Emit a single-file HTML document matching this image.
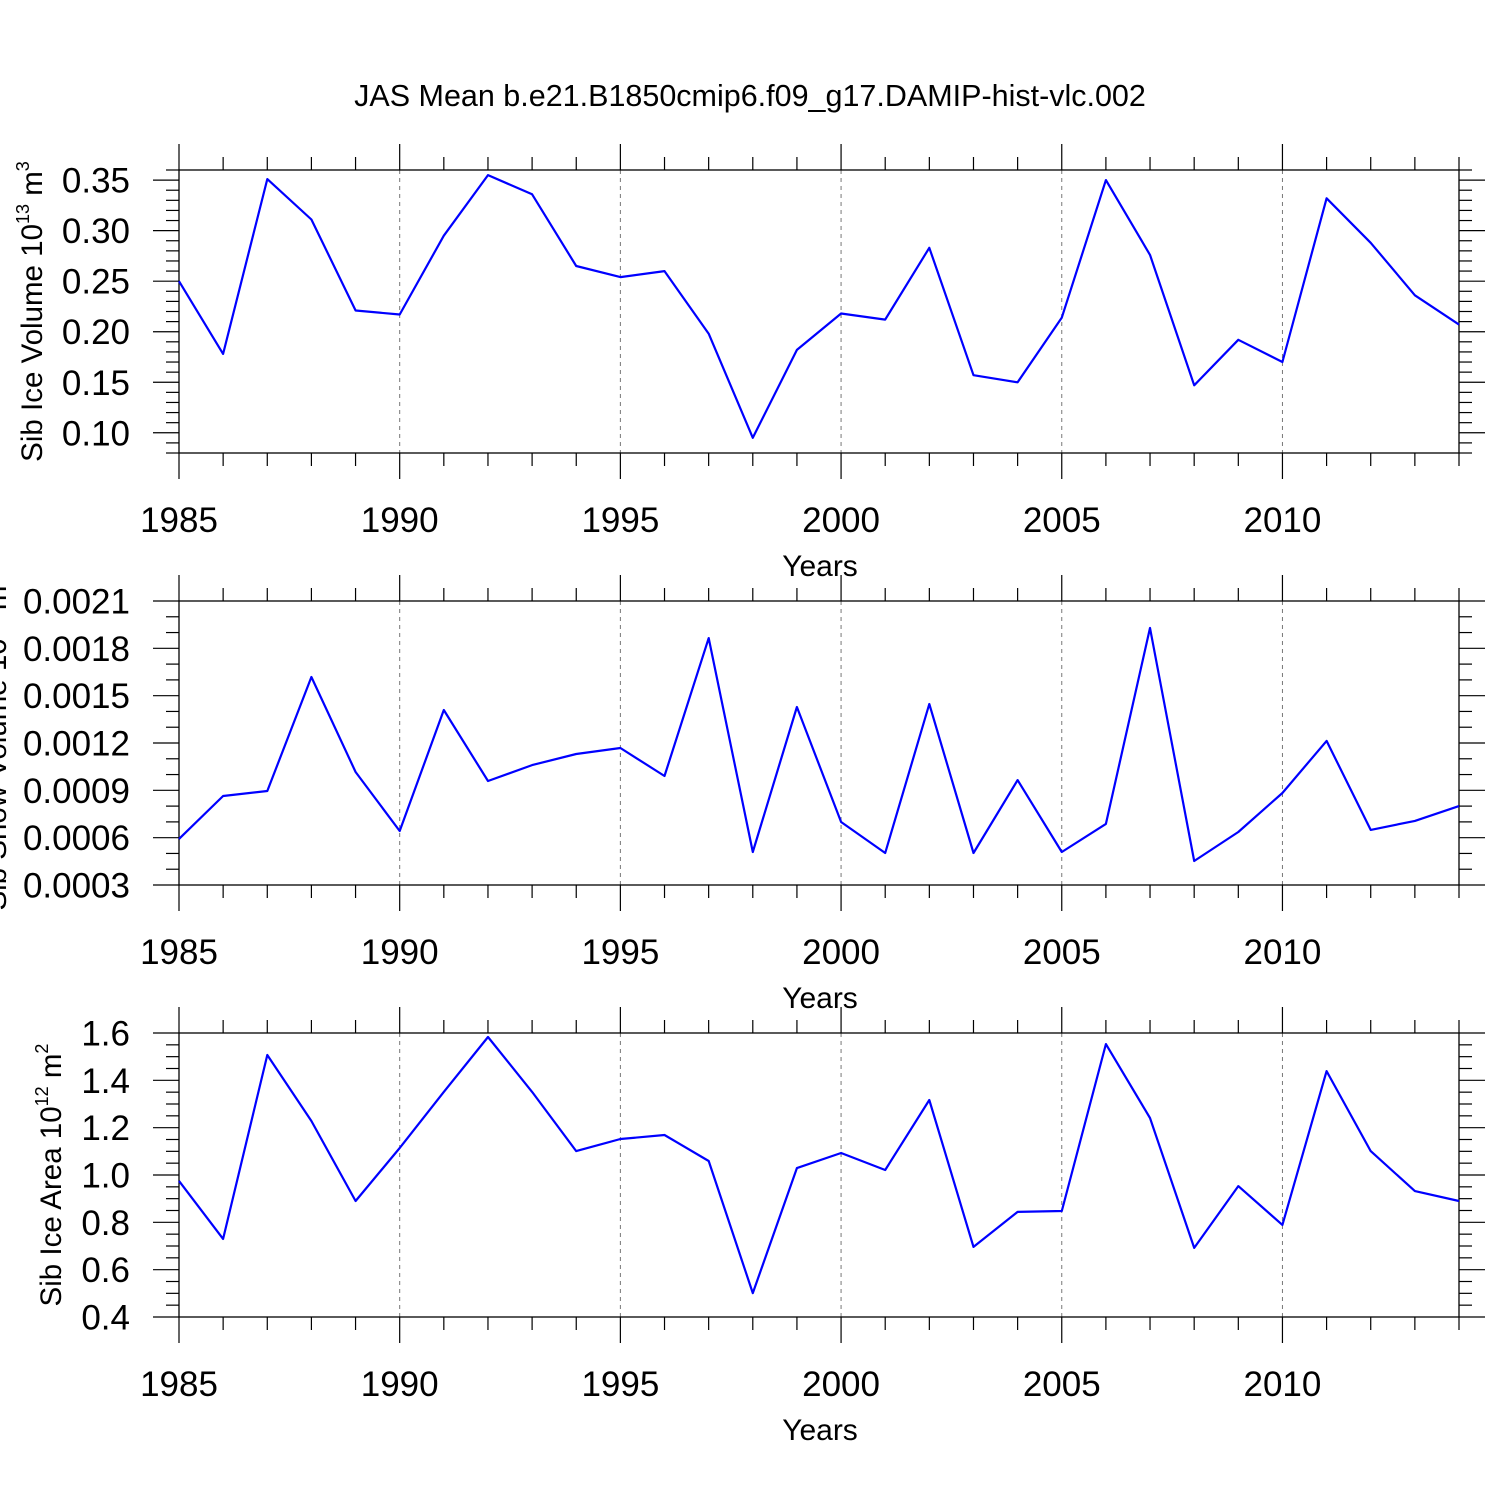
<!DOCTYPE html>
<html><head><meta charset="utf-8"><style>
html,body{margin:0;padding:0;background:#fff;}
svg{display:block;font-family:"Liberation Sans",sans-serif;}
</style></head><body>
<svg id="chart" width="1500" height="1500" viewBox="0 0 1500 1500" xmlns="http://www.w3.org/2000/svg">
<rect width="1500" height="1500" fill="#fff"/>
<text x="750" y="106" font-size="30.5" text-anchor="middle">JAS Mean b.e21.B1850cmip6.f09_g17.DAMIP-hist-vlc.002</text>
</svg>
<script>
const years = [1985,1986,1987,1988,1989,1990,1991,1992,1993,1994,1995,1996,1997,1998,1999,2000,2001,2002,2003,2004,2005,2006,2007,2008,2009,2010,2011,2012,2013,2014];
const iceVolume = [0.250,0.178,0.351,0.311,0.221,0.217,0.295,0.355,0.336,0.265,0.254,0.260,0.198,0.095,0.182,0.218,0.212,0.283,0.157,0.150,0.214,0.350,0.276,0.147,0.192,0.170,0.332,0.288,0.236,0.207];
const snowVolume = [0.000592,0.000864,0.000896,0.001618,0.001016,0.000642,0.001409,0.000959,0.00106,0.00113,0.001168,0.000991,0.001865,0.000509,0.001428,0.000699,0.000503,0.001447,0.000503,0.000965,0.000509,0.000687,0.001929,0.000452,0.000636,0.000883,0.001213,0.000649,0.000706,0.0008];
const iceArea = [0.975,0.730,1.507,1.228,0.890,1.114,1.351,1.583,1.351,1.101,1.152,1.169,1.059,0.501,1.029,1.093,1.021,1.317,0.696,0.844,0.848,1.553,1.241,0.692,0.953,0.789,1.439,1.101,0.932,0.890];
const xTicks = [1985,1990,1995,2000,2005,2010];
const volTicks = ["0.10","0.15","0.20","0.25","0.30","0.35"];
const snowTicks = ["0.0003","0.0006","0.0009","0.0012","0.0015","0.0018","0.0021"];
const areaTicks = ["0.4","0.6","0.8","1.0","1.2","1.4","1.6"];

const NS="http://www.w3.org/2000/svg";
const svg=document.getElementById('chart');
function mk(tag,attrs,parent){const e=document.createElementNS(NS,tag);for(const k in attrs)e.setAttribute(k,attrs[k]);(parent||svg).appendChild(e);return e;}

const X0=179,X1=1459;
function xs(v){return X0+(v-1985)/(2014-1985)*(X1-X0);}

const panels=[
 {name:'ice-volume',top:170,bot:453,ymin:0.08,ymax:0.36,data:iceVolume,ticks:volTicks,minor:0.01,label:'Sib Ice Volume 10',sup:'13',unit:'3',labelX:42},
 {name:'snow-volume',top:601,bot:885,ymin:0.0003,ymax:0.0021,data:snowVolume,ticks:snowTicks,minor:0.0001,label:'Sib Snow Volume 10',sup:'10',unit:'3',labelX:6},
 {name:'ice-area',top:1033,bot:1317,ymin:0.4,ymax:1.6,data:iceArea,ticks:areaTicks,minor:0.05,label:'Sib Ice Area 10',sup:'12',unit:'2',labelX:61}
];

panels.forEach(p=>{
  const g=mk('g',{});
  
  
  const ys=v=>p.bot-(v-p.ymin)/(p.ymax-p.ymin)*(p.bot-p.top);
  xTicks.slice(1).forEach(t=>{
    const l=mk('line',{x1:xs(t),x2:xs(t),y1:p.top,y2:p.bot,stroke:'#777','stroke-width':1,'stroke-dasharray':'4,4'},g);
    
    
  });
  const fr=mk('rect',{x:X0,y:p.top,width:X1-X0,height:p.bot-p.top,fill:'none',stroke:'#000','stroke-width':1.3},g);
  
  
  years.forEach(yr=>{
    const major=xTicks.includes(yr);
    const len=major?26:13;
    const x=xs(yr);
    mk('line',{x1:x,x2:x,y1:p.top,y2:p.top-len,stroke:'#000','stroke-width':1.2},g);
    mk('line',{x1:x,x2:x,y1:p.bot,y2:p.bot+len,stroke:'#000','stroke-width':1.2},g);
  });
  xTicks.forEach(t=>{
    const tx=mk('text',{x:xs(t),y:p.bot+79,'font-size':35,'text-anchor':'middle'},g);
    tx.textContent=t;
    
    
  });
  const nMinor=Math.round((p.ymax-p.ymin)/p.minor);
  const tickVals=p.ticks.map(Number);
  for(let i=0;i<=nMinor;i++){
    const v=p.ymin+i*p.minor;
    const major=tickVals.some(t=>Math.abs(t-v)<p.minor*0.1);
    const len=major?26:13;
    const y=ys(v);
    mk('line',{x1:X0,x2:X0-len,y1:y,y2:y,stroke:'#000','stroke-width':1.2},g);
    mk('line',{x1:X1,x2:X1+len,y1:y,y2:y,stroke:'#000','stroke-width':1.2},g);
  }
  p.ticks.forEach(t=>{
    const tx=mk('text',{x:130,y:ys(Number(t))+12.5,'font-size':35,'text-anchor':'end'},g);
    tx.textContent=t;
    
    
  });
  const xt=mk('text',{x:820,y:p.bot+123,'font-size':30,'text-anchor':'middle'},g);
  xt.textContent='Years';
  
  
  const cy=(p.top+p.bot)/2;
  const yt=mk('text',{x:p.labelX,y:cy,'font-size':29.5,'text-anchor':'middle',transform:`rotate(-90 ${p.labelX} ${cy})`},g);
  
  
  yt.appendChild(document.createTextNode(p.label));
  const s1=mk('tspan',{'font-size':18,dy:-13},yt); s1.textContent=p.sup;
  const s2=mk('tspan',{dy:13},yt); s2.textContent=' m';
  const s3=mk('tspan',{'font-size':18,dy:-13},yt); s3.textContent=p.unit;
  const pts=p.data.map((v,i)=>xs(years[i]).toFixed(1)+','+ys(v).toFixed(1)).join(' ');
  const pl=mk('polyline',{points:pts,fill:'none',stroke:'#0000ff','stroke-width':2.2,'stroke-linejoin':'round'},g);
  
  
});
</script>
</body></html>
